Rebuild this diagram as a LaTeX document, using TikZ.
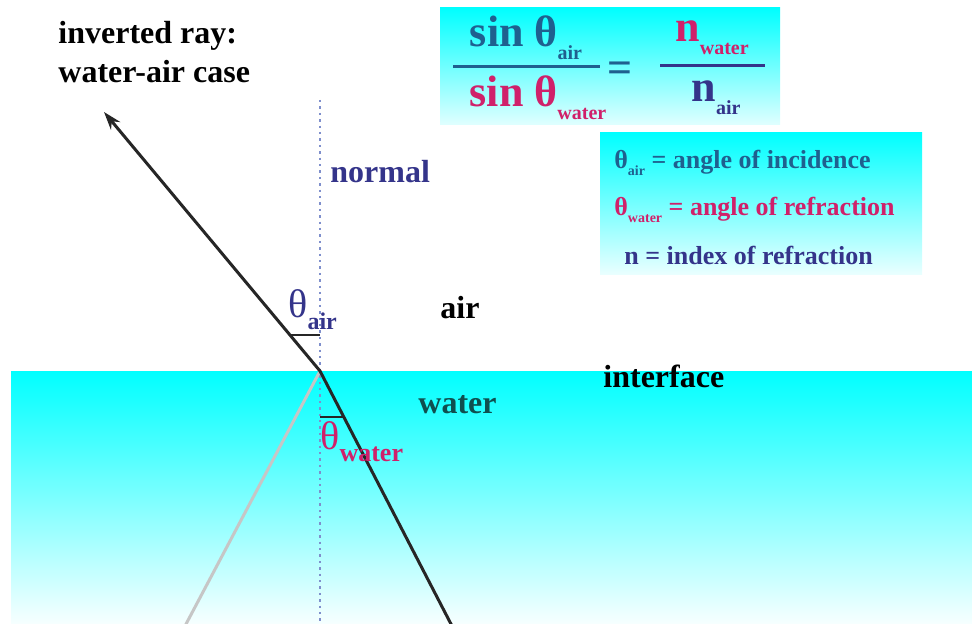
\documentclass[tikz,border=0pt]{standalone}
\usepackage{fontspec}
\setmainfont{Liberation Serif}
\usepackage{tikz}
\usetikzlibrary{calc,arrows.meta}

\definecolor{airblue}{HTML}{1F608F}
\definecolor{watercol}{HTML}{D0206A}
\definecolor{navyblue}{HTML}{34348A}
\definecolor{waterteal}{HTML}{0F4F4F}
\definecolor{normalcol}{HTML}{7F8FCC}

% lowered subscript of a given size
\newcommand{\lo}[2][10]{\lower0.3em\hbox{\fontsize{#1}{#1}\selectfont #2}}

\begin{document}
\begin{tikzpicture}[x=0.5pt, y=-0.5pt,
  lbl/.style={font=\fontsize{16}{18}\selectfont\bfseries, inner sep=0pt, anchor=west},
  eqtxt/.style={font=\fontsize{22}{24}\selectfont\bfseries, inner sep=0pt},
  legtxt/.style={font=\fontsize{13}{15}\selectfont\bfseries, inner sep=0pt, anchor=west},
  ray/.style={line width=1.5pt, black!85},
  fracbar/.style={line width=1.5pt}]
  \useasboundingbox (0,0) rectangle (972,624);
  % water below the interface
  \shade[top color=cyan, bottom color=cyan!3] (11,371) rectangle (972,624);
  % formula and legend boxes
  \shade[top color=cyan, bottom color=cyan!12] (440,8) rectangle (780,125);
  \shade[top color=cyan, bottom color=cyan!8] (600,133) rectangle (922,275);
  % points of the rays
  \coordinate (hit)     at (320,371);
  \coordinate (ntop)    at (320,100);
  \coordinate (nbot)    at (320,624);
  \coordinate (raybot)  at (452,626);
  \coordinate (raytip)  at (104,112);
  \coordinate (graybot) at (185,626);
  % normal
  \draw[normalcol, line width=1.2pt, dotted] (ntop) -- (nbot);
  % rays
  \draw[gray!45, line width=1.5pt] (hit) -- (graybot);
  \draw[ray, -{Stealth[length=9pt, width=6pt]}] (raybot) -- (hit) -- (raytip);
  % angle marks
  \coordinate (airmk) at ($(hit)!0.14!(raytip)$);
  \coordinate (watmk) at ($(hit)!0.18!(raybot)$);
  \draw[line width=1.2pt, black!85] (airmk) -- (airmk -| hit);
  \draw[line width=1.2pt, black!85] (watmk) -- (watmk -| hit);
  % labels
  \node[lbl] (inv1) at (58,36) {inverted ray:};
  \node[lbl] (inv2) at (58,72) {water-air case};
  \node[lbl, text=navyblue] (normal) at (330,172) {normal};
  \node[lbl, text=navyblue, font=\fontsize{20}{22}\selectfont] (thair) at (288,310) {θ\lo[12]{\bfseries air}};
  \node[lbl] (air) at (440,308) {air};
  \node[lbl] (interface) at (603,376) {interface};
  \node[lbl, text=waterteal] (water) at (418,405) {water};
  \node[lbl, text=watercol, font=\fontsize{20}{22}\selectfont] (thwater) at (320,442) {θ\lo[13]{\bfseries water}};
  % Snell's law
  \node[eqtxt, text=airblue] (num1) at (526,38) {sin θ\lo[10]{air}};
  \node[eqtxt, text=watercol] (den1) at (538,98) {sin θ\lo[10]{water}};
  \draw[fracbar, airblue] (453,67) -- (600,67);
  \node[eqtxt, text=airblue] (eqsign) at (620,72) {=};
  \node[eqtxt, text=watercol] (num2) at (712,38) {n\lo[10]{water}};
  \node[eqtxt, text=navyblue] (den2) at (716,98) {n\lo[10]{air}};
  \draw[fracbar, navyblue] (660,66) -- (765,66);
  % legend
  \node[legtxt, text=airblue] (leg1) at (614,163) {θ\lo[7]{air} = angle of incidence};
  \node[legtxt, text=watercol] (leg2) at (614,210) {θ\lo[7]{water} = angle of refraction};
  \node[legtxt, text=navyblue] (leg3) at (624,255) {n = index of refraction};
\end{tikzpicture}
\end{document}
